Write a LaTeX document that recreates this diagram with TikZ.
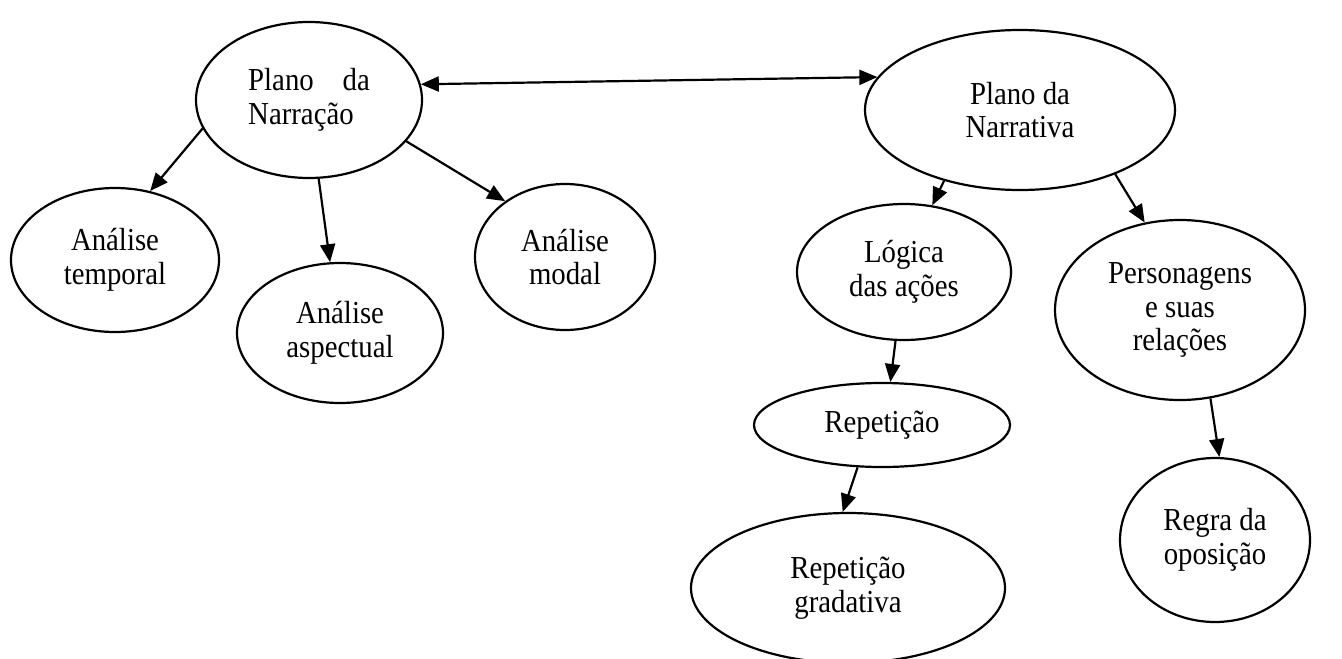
\documentclass[tikz,border=0pt]{standalone}
\usepackage{fontspec}
\setmainfont{Liberation Serif}[FakeStretch=0.9]
\usetikzlibrary{arrows.meta,shapes.geometric}

\tikzset{bolha/.style={ellipse, draw, line width=1.1pt, align=center, inner sep=0pt,
  font=\fontsize{16}{16.8}\selectfont}}

\begin{document}
\begin{tikzpicture}[x=0.5pt,y=-0.5pt,>={Triangle[length=9pt,width=7.5pt]}]
\useasboundingbox (0,0) rectangle (1342,658);
% plano da narracao e seus ramos
\node[bolha, align=left, minimum width=113pt, minimum height=78pt] (narracao) at (309,100) {Plano\hspace{0.9em}da\\Narração};
\node[bolha, minimum width=104pt, minimum height=72pt] (temporal) at (115,260) {Análise\\temporal};
\node[bolha, minimum width=103pt, minimum height=70pt] (aspectual) at (340,333) {Análise\\aspectual};
\node[bolha, minimum width=90pt, minimum height=73pt] (modal) at (565,257) {Análise\\modal};
% plano da narrativa e seus ramos
\node[bolha, minimum width=155pt, minimum height=80pt] (narrativa) at (1020,110) {Plano da\\Narrativa};
\node[bolha, minimum width=107pt, minimum height=68pt] (logica) at (904,272) {Lógica\\das ações};
\node[bolha, minimum width=125pt, minimum height=90pt] (personagens) at (1180,310) {Personagens\\e suas\\relações};
\node[bolha, minimum width=128pt, minimum height=42pt] (repeticao) at (882,425) {Repetição};
\node[bolha, minimum width=157pt, minimum height=75pt] (gradativa) at (848,588) {Repetição\\gradativa};
\node[bolha, minimum width=95pt, minimum height=82pt] (regra) at (1215,540) {Regra da\\oposição};

\draw[<->, line width=1.1pt] (narracao.8) -- (narrativa.167);
\draw[->, line width=1.1pt] (narracao.195) -- (temporal.63);
\draw[->, line width=1.1pt] (narracao.-83) -- (aspectual.98);
\draw[->, line width=1.1pt] (narracao.-23) -- (modal.137);
\draw[->, line width=1.1pt] (narrativa.-137) -- (logica.67);
\draw[->, line width=1.1pt] (narrativa.-34) -- (personagens.112);
\draw[->, line width=1.1pt] (logica.-97) -- (repeticao.79);
\draw[->, line width=1.1pt] (repeticao.-120) -- (gradativa.94);
\draw[->, line width=1.1pt] (personagens.-71) -- (regra.87);
\end{tikzpicture}
\end{document}
